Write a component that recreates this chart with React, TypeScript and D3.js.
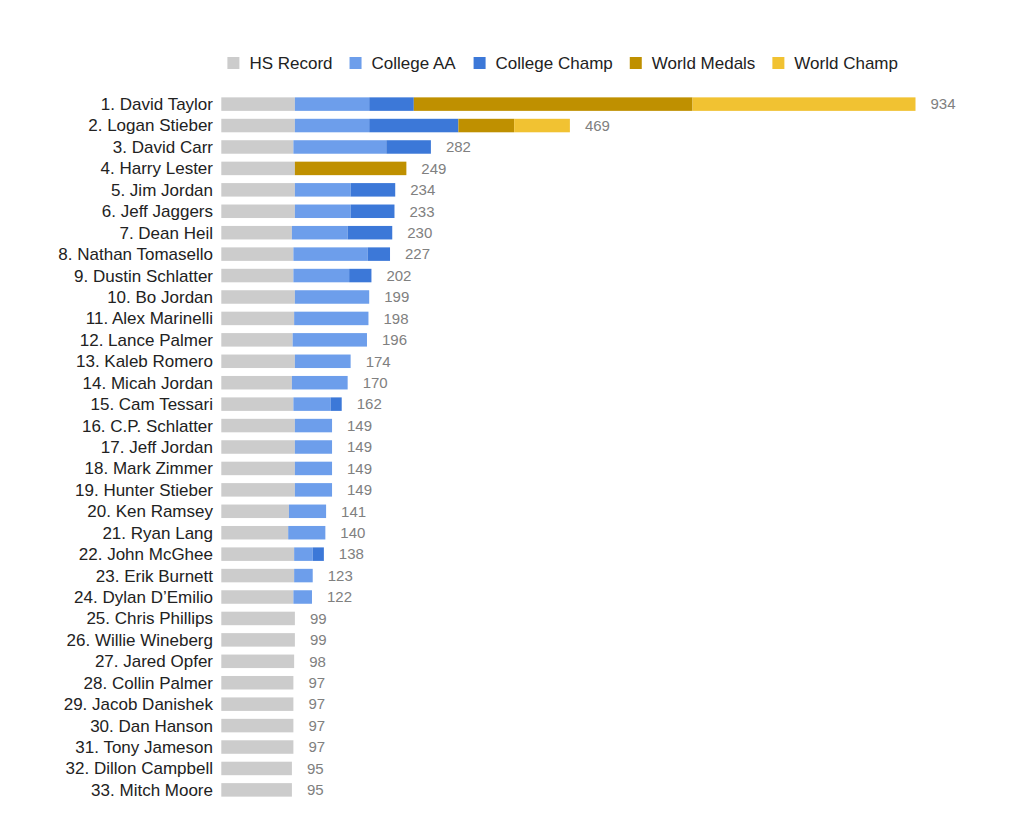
import React from "react";
import * as d3 from "d3";

const names = [
  "1. David Taylor", "2. Logan Stieber", "3. David Carr", "4. Harry Lester", "5. Jim Jordan",
  "6. Jeff Jaggers", "7. Dean Heil", "8. Nathan Tomasello", "9. Dustin Schlatter", "10. Bo Jordan",
  "11. Alex Marinelli", "12. Lance Palmer", "13. Kaleb Romero", "14. Micah Jordan", "15. Cam Tessari",
  "16. C.P. Schlatter", "17. Jeff Jordan", "18. Mark Zimmer", "19. Hunter Stieber", "20. Ken Ramsey",
  "21. Ryan Lang", "22. John McGhee", "23. Erik Burnett", "24. Dylan D\u2019Emilio", "25. Chris Phillips",
  "26. Willie Wineberg", "27. Jared Opfer", "28. Collin Palmer", "29. Jacob Danishek", "30. Dan Hanson",
  "31. Tony Jameson", "32. Dillon Campbell", "33. Mitch Moore",
];

const hsRecord = [99, 99, 97, 99, 99, 99, 95, 97, 97, 99, 98, 96, 99, 95, 97, 99, 99, 99, 99, 91, 90, 98, 98, 97, 99, 99, 98, 97, 97, 97, 97, 95, 95];
const collegeAA = [100, 100, 125, 0, 75, 75, 75, 100, 75, 100, 100, 100, 75, 75, 50, 50, 50, 50, 50, 50, 50, 25, 25, 25, 0, 0, 0, 0, 0, 0, 0, 0, 0];
const collegeChamp = [60, 120, 60, 0, 60, 59, 60, 30, 30, 0, 0, 0, 0, 0, 15, 0, 0, 0, 0, 0, 0, 15, 0, 0, 0, 0, 0, 0, 0, 0, 0, 0, 0];
const worldMedals = [375, 75, 0, 150, 0, 0, 0, 0, 0, 0, 0, 0, 0, 0, 0, 0, 0, 0, 0, 0, 0, 0, 0, 0, 0, 0, 0, 0, 0, 0, 0, 0, 0];
const worldChamp = [300, 75, 0, 0, 0, 0, 0, 0, 0, 0, 0, 0, 0, 0, 0, 0, 0, 0, 0, 0, 0, 0, 0, 0, 0, 0, 0, 0, 0, 0, 0, 0, 0];

const seriesNames = ["HS Record", "College AA", "College Champ", "World Medals", "World Champ"];
const seriesColors = ["#cccccc", "#6d9eeb", "#3c78d8", "#bf9000", "#f1c232"];

const FONT = "Arial, 'Liberation Sans', sans-serif";

function measure(text: string, size: number): number {
  const c = document.createElement("canvas").getContext("2d");
  if (!c) return text.length * size * 0.55;
  c.font = `${size}px Arial, "Liberation Sans", sans-serif`;
  return c.measureText(text).width;
}

export default function App() {
  const W = 1024, H = 818;
  const seriesValues = [hsRecord, collegeAA, collegeChamp, worldMedals, worldChamp];
  const rows = names.map((n, i) => {
    const o: any = { name: n };
    seriesNames.forEach((s, k) => (o[s] = seriesValues[k][i]));
    return o;
  });
  const stack = d3.stack<any>().keys(seriesNames)(rows);
  const totals = rows.map((r) => d3.sum(seriesNames, (s) => r[s]));

  const x = d3.scaleLinear().domain([0, 934]).range([221.3, 915.5]);
  const y = d3
    .scaleBand<string>()
    .domain(names)
    .range([93.4, 800.6])
    .paddingInner(0.37)
    .paddingOuter(0.185);
  const color = d3.scaleOrdinal<string, string>().domain(seriesNames).range(seriesColors);

  let cursor = 227.4;
  const legendItems = seriesNames.map((s) => {
    const item = { s, x: cursor };
    cursor += 12 + 10 + measure(s, 17) + 17;
    return item;
  });

  return (
    <svg width={W} height={H} style={{ position: "absolute", left: 0, top: 0, background: "#fff" }} fontFamily={FONT}>
      <rect width={W} height={H} fill="#fff" />
      <g>
        {legendItems.map((it) => (
          <g key={it.s}>
            <rect x={it.x} y={57} width={12} height={12} fill={color(it.s)} />
            <text x={it.x + 22} y={63} dy="0.35em" fontSize={17} fill="#222">
              {it.s}
            </text>
          </g>
        ))}
      </g>
      <g>
        {stack.map((layer) => (
          <g key={layer.key} fill={color(layer.key)}>
            {layer.map((d, i) =>
              d[1] - d[0] > 0 ? (
                <rect
                  key={i}
                  x={x(d[0])}
                  y={y(names[i])}
                  width={x(d[1]) - x(d[0])}
                  height={y.bandwidth()}
                />
              ) : null
            )}
          </g>
        ))}
      </g>
      <g>
        {names.map((n) => (
          <text
            key={n}
            x={213}
            y={(y(n) as number) + y.bandwidth() / 2}
            dy="0.35em"
            textAnchor="end"
            fontSize={17}
            fill="#222"
          >
            {n}
          </text>
        ))}
      </g>
      <g>
        {names.map((n, i) => (
          <text
            key={n}
            x={x(totals[i]) + 15}
            y={(y(n) as number) + y.bandwidth() / 2}
            dy="0.35em"
            fontSize={15}
            fill="#808080"
          >
            {totals[i]}
          </text>
        ))}
      </g>
    </svg>
  );
}
